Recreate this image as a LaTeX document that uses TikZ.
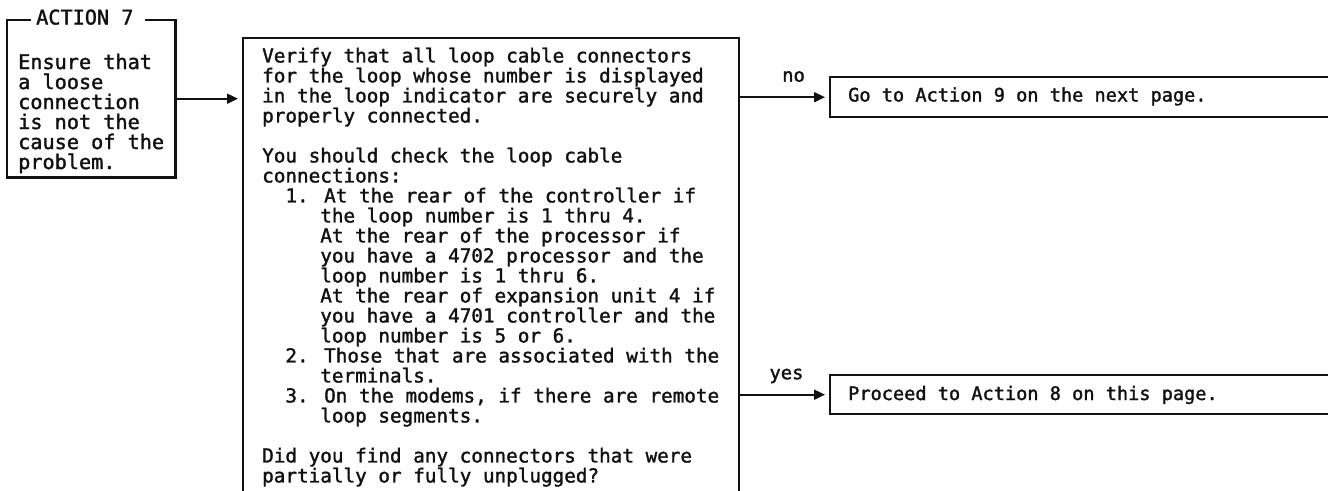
\documentclass[tikz,border=0pt]{standalone}
\usepackage{fontspec}
\newfontfamily\panelfont{DejaVu Sans Mono}[FakeBold=1.6]
\usetikzlibrary{arrows.meta, calc}
\definecolor{cInk}{HTML}{111111}
\tikzset{
    frame/.style ={draw=cInk, line width=2.4pt, inner sep=0pt},
    txt/.style   ={align=left, inner sep=0pt, text=cInk,
                   font=\panelfont\fontsize{#1}{20}\selectfont},
    txt/.default =19.3,
    flow/.style  ={-{Triangle[length=11pt, width=10pt]}, line width=1.9pt,
                   cInk, shorten >=4pt},
    ans/.style   ={txt=18.8, anchor=base, yshift=15.5pt},
}
\newcommand{\ind}[1]{\phantom{#1}}

\begin{document}
\begin{tikzpicture}[x=1pt, y=1pt]
\useasboundingbox (0,0) rectangle (1328,-490);
\clip (0,0) rectangle (1328,-490);

% ===================== ACTION 7 =====================
\node[frame, draw=none, minimum width=166, minimum height=155, anchor=north west] (act) at (7,-20) {};
\node[txt=20.2, anchor=base west] (acttitle) at (36,-24.5) {ACTION 7};
\draw[frame] ($(acttitle.west |- act.north)+(-5,0)$) -- (act.north west) -- (act.south west)
      -- (act.south east) -- (act.north east) -- ($(acttitle.east |- act.north)+(11,0)$);
\node[txt=20.2, anchor=north west] (actnote) at (18,-53.5)
     {Ensure that\\a loose\\connection\\is not the\\cause of the\\problem.};

% ===================== Comprobacion de conectores =====================
\node[frame, minimum width=496, minimum height=480, anchor=north west] (chk) at (242,-37) {};
\node[txt, anchor=north west] (chknote) at (262,-47.5)
     {Verify that all loop cable connectors\\
      for the loop whose number is displayed\\
      in the loop indicator are securely and\\
      properly connected.\\[20pt]
      You should check the loop cable\\
      connections:\\
      \ind{00}1. At the rear of the controller if\\
      \ind{00000}the loop number is 1 thru 4.\\
      \ind{00000}At the rear of the processor if\\
      \ind{00000}you have a 4702 processor and the\\
      \ind{00000}loop number is 1 thru 6.\\
      \ind{00000}At the rear of expansion unit 4 if\\
      \ind{00000}you have a 4701 controller and the\\
      \ind{00000}loop number is 5 or 6.\\
      \ind{00}2. Those that are associated with the\\
      \ind{00000}terminals.\\
      \ind{00}3. On the modems, if there are remote\\
      \ind{00000}loop segments.\\[20pt]
      Did you find any connectors that were\\
      partially or fully unplugged?};

% ===================== Respuestas =====================
\node[frame, minimum width=520, minimum height=40, anchor=north west] (nogo) at (829,-76) {};
\node[txt=18.6, anchor=base west] (nonote) at (848,-101.5) {Go to Action 9 on the next page.};
\node[frame, minimum width=520, minimum height=39, anchor=north west] (yesgo) at (829,-374) {};
\node[txt=18.6, anchor=base west] (yesnote) at (848,-400) {Proceed to Action 8 on this page.};

% ===================== Flechas =====================
\draw[flow] (act.east) -- (act.east -| chk.west);
\draw[flow] (nogo.west -| chk.east) -- (nogo.west) node[ans, pos=0.6] {no};
\draw[flow] (yesgo.west -| chk.east) -- (yesgo.west) node[ans, pos=0.52] {yes};

\end{tikzpicture}
\end{document}
